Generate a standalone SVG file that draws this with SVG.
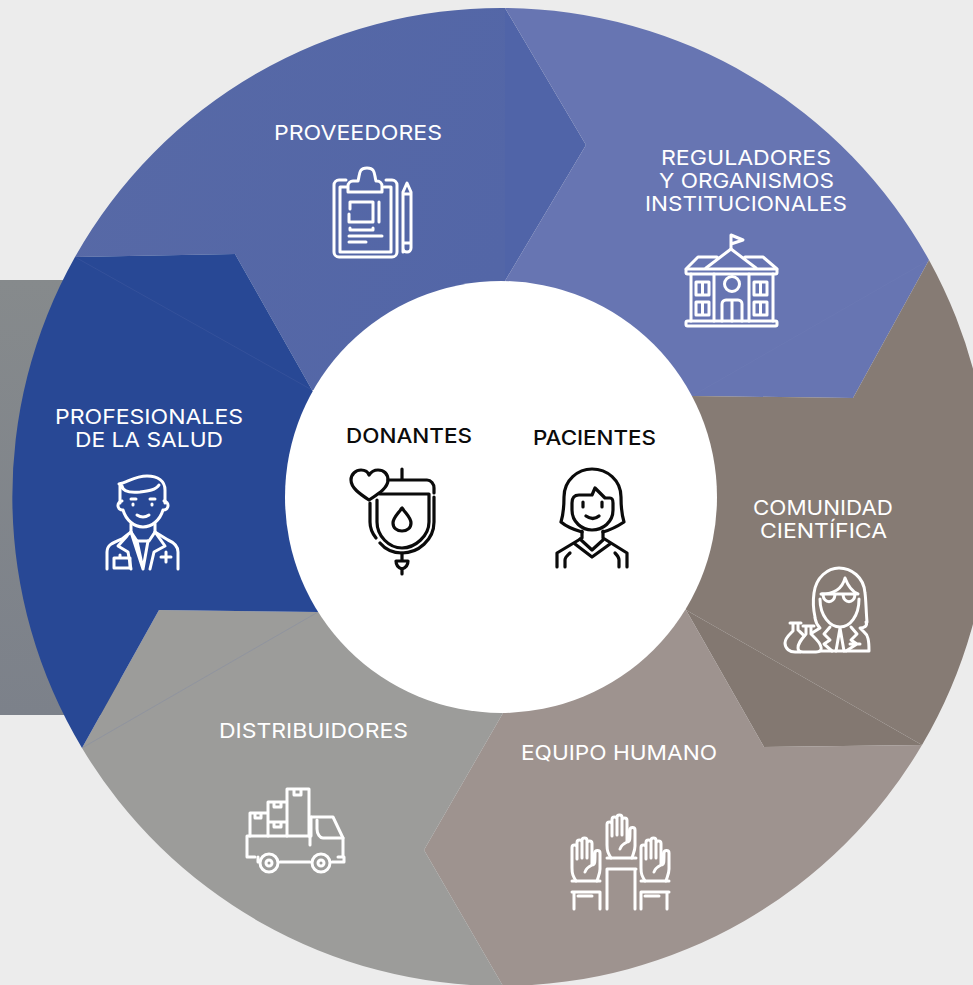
<svg xmlns="http://www.w3.org/2000/svg" xmlns:xlink="http://www.w3.org/1999/xlink" width="973" height="985" viewBox="0 0 973 985">
<style>
.t{font-family:Inter,"Liberation Sans",sans-serif;font-size:20px;font-weight:400;fill:#fff}
.k{font-family:Inter,"Liberation Sans",sans-serif;font-size:20px;font-weight:500;fill:#0b0b0b}
.i{fill:none;stroke:#fff;stroke-width:3;stroke-linecap:round;stroke-linejoin:round}
.b{fill:none;stroke:#0b0b0b;stroke-width:3.2;stroke-linecap:round;stroke-linejoin:round}
.seam{stroke-width:.6;fill:none;opacity:.4}
</style>
<defs>
<linearGradient id="gr" x1="0" y1="0" x2="0" y2="1"><stop offset="0" stop-color="#868a8c"/><stop offset="1" stop-color="#7c818a"/></linearGradient>
<linearGradient id="pv" gradientUnits="userSpaceOnUse" x1="75" y1="100" x2="505" y2="250"><stop offset="0" stop-color="#5769a6"/><stop offset="1" stop-color="#5366a7"/></linearGradient>
<g id="hand"><path d="M4,43C1,38 0,36 0,30V9.500a2.500,2.500 0 0 1 5,0V21M5,20V4.500a2.500,2.500 0 0 1 5,0V20M10,20V2.500a2.500,2.500 0 0 1 5,0V20M15,20V5.500a2.500,2.500 0 0 1 5,0V23V27C23,27 23,25 23,15a2.500,2.500 0 0 1 5,0V31C28,36 26,39 25,43M13,34C14,30 18,28 20,27"/></g>
</defs>
<rect width="973" height="985" fill="#ececec"/>
<rect x="0" y="280" width="120" height="435" fill="url(#gr)"/>

<g id="sector-proveedores"><path d="M75,257A489,489 0 0 1 505,8L505,281L501,400L312,390L235,254Z" fill="url(#pv)"/><path d="M505,8L586,145L505,281Z" fill="#5064a8"/></g>
<g id="sector-reguladores"><path d="M505,8A489,489 0 0 1 929,260L853,398L692,396L600,400L505,281L586,145Z" fill="#6775b2"/></g>
<g id="sector-comunidad"><path d="M929,260A489,489 0 0 1 922,745L686,610L600,500L692,396L853,398Z" fill="#867b74"/><path d="M922,745L764,747L686,610Z" fill="#837871"/></g>
<g id="sector-equipo"><path d="M922,745A489,489 0 0 1 503,986L424,850L503,713L600,600L686,610L764,747Z" fill="#9e938f"/></g>
<g id="sector-distribuidores"><path d="M503,986A489,489 0 0 1 82,748L159,610L318,612L400,600L503,713L424,850Z" fill="#9c9c9a"/></g>
<g id="sector-profesionales"><path d="M82,748A489,489 0 0 1 75,257L235,254L312,390L400,500L318,612L159,610Z" fill="#284895"/></g>

<g id="connectors">
<path class="seam" stroke="#5c70ad" d="M75,257L312,390"/>
<path class="seam" stroke="#6c7db0" d="M82,748L318,612"/>
<path class="seam" stroke="#7583bb" d="M929,260L692,396"/>
</g>

<g id="centro"><circle cx="501" cy="497" r="216" fill="#fff"/></g>

<g id="proveedores">
<text class="t" x="274" y="139.500" textLength="168" lengthAdjust="spacingAndGlyphs">PROVEEDORES</text>
<g class="i">
<path d="M346,180H339a5,5 0 0 0-5,5V252a5,5 0 0 0 5,5H392a5,5 0 0 0 5-5V185a5,5 0 0 0-5-5H386"/>
<path d="M347,187H340V252H391V187H384"/>
<path d="M348,192V186a5,5 0 0 1 5-5H358C360,175 358,168 367,168C376,168 374,175 376,181H377a5,5 0 0 1 5,5V192Z"/>
<path d="M350,209V202H373V222H349V214M379,202V222"/>
<path d="M350,228V230H373V228M349,236H382M349,242H366"/>
<path d="M403,252V192L407,183L411,192V248a4,4 0 0 1-8,0ZM403,243H411M403,194H411"/>
</g></g>

<g id="reguladores">
<text class="t" x="661" y="164.500" textLength="170" lengthAdjust="spacingAndGlyphs">REGULADORES</text>
<text class="t" x="659" y="187.500" textLength="175" lengthAdjust="spacingAndGlyphs">Y ORGANISMOS</text>
<text class="t" x="645" y="210.500" textLength="202" lengthAdjust="spacingAndGlyphs">INSTITUCIONALES</text>
<g class="i">
<path d="M731,249V235L743,240L731,244"/>
<path d="M706,268L731,249L756,268M686,269L698,257H717M745,257H763L777,269"/>
<rect x="686" y="269" width="91" height="5" rx="1.500"/>
<path d="M714,274V321M749,274V321M691,274V321M773,274V321"/>
<rect x="686" y="321" width="91" height="5" rx="1.500"/>
<circle cx="732" cy="284" r="7.500"/>
<path d="M722,321V304a4,4 0 0 1 4-4H738a4,4 0 0 1 4,4V321M732,300V321"/>
<path d="M696,282H709V295H696ZM702.500,282V295M696,302H709V315H696ZM702.500,302V315M754,282H767V295H754ZM760.500,282V295M754,302H767V315H754ZM760.500,302V315"/>
</g></g>

<g id="comunidad">
<text class="t" x="753" y="514.500" textLength="140" lengthAdjust="spacingAndGlyphs">COMUNIDAD</text>
<text class="t" x="760" y="537.500" textLength="127" lengthAdjust="spacingAndGlyphs">CIENTÍFICA</text>
<g class="i">
<path d="M815,617C813,608 813,600 814,593C816,577 828,568 839,568C851,568 864,577 865,593C866,600 866,610 867,622"/>
<path d="M821,594C832,594 842,590 845,578C848,586 853,592 858,594"/>
<path d="M820,599C820,616 830,627 840,627C850,627 859,616 859,599"/>
<path d="M822,594H856M823,595C824,604 834,604 835,595M843,595C844,604 854,604 855,595"/>
<path d="M815,618C816,624 818,626 820,628L812,633M866,622C868,626 864,628 860,628L864,632C868,635 869,640 869,651H820"/>
<path d="M830,627L824,634L830,640L824,644L832,651M851,627L857,634L851,640L857,644L846,651M840,628L836,651M840,628L844,651M850,644H860"/>
<path d="M790,623H801M793,623V631C790,634 785,638 785,643C785,649 790,652 795,652H800M798,623V630C800,632 803,634 804,636"/>
<path d="M806,626V634C801,640 798,643 798,648C798,651 800,652 803,652H816C820,652 822,650 821,647C820,642 815,638 811,634V626M803,626H814"/>
</g></g>

<g id="equipo">
<text class="t" x="521" y="759.500" textLength="196" lengthAdjust="spacingAndGlyphs">EQUIPO HUMANO</text>
<g class="i">
<use xlink:href="#hand" href="#hand" x="607" y="815"/>
<use xlink:href="#hand" href="#hand" x="572" y="838"/>
<use xlink:href="#hand" href="#hand" x="641" y="838"/>
<path d="M607,858H636M607,869H636M607,869V909M635,869V909"/>
<path d="M572,881H600M572,892H600M574,892V909M600,892V909M578,896H592"/>
<path d="M641,881H669M641,892H669M641,892V909M667,892V909M645,896H659"/>
</g></g>

<g id="distribuidores">
<text class="t" x="219" y="737.500" textLength="189" lengthAdjust="spacingAndGlyphs">DISTRIBUIDORES</text>
<g class="i">
<path d="M250,836V813H268V836M255,813V818H261V813M268,836V802H287V836M268,822H287M274,802V807H281V802M274,822V827H281V822M287,836V789H309V836M294,789V795H301V789"/>
<path d="M255,857H247V836H310V845"/>
<path d="M311,817H333L343,838V857H338"/>
<path d="M317,820V829C317,834 320,838 323,838H343M311,817V836"/>
<path d="M280,862H310M332,862H344V857M258,857V862"/>
<circle cx="269" cy="863" r="9"/><circle cx="269" cy="863" r="3"/>
<circle cx="321" cy="863" r="9"/><circle cx="321" cy="863" r="3"/>
</g></g>

<g id="profesionales">
<text class="t" x="55" y="423.500" textLength="188" lengthAdjust="spacingAndGlyphs">PROFESIONALES</text>
<text class="t" x="75" y="446.500" textLength="148" lengthAdjust="spacingAndGlyphs">DE LA SALUD</text>
<g class="i">
<path d="M119,484C128,482 135,476 147,476C158,476 165,481 165,490V503M122,486C123,492 130,493 140,492C148,491 156,490 159,485M120,486V503"/>
<path d="M122,501a3.500,3.500 0 1 0 1,9M164,501a3.500,3.500 0 1 1-1,9M123,510C126,520 134,527 143,527C152,527 160,520 163,510"/>
<path d="M131,499H136M150,499H155M133,504V505M152,504V505M137,515Q143,519 149,515"/>
<path d="M131,524V532L137,541H149L155,532V524"/>
<path d="M107,569V552C107,545 112,543 122,539L131,532M155,532L168,540C175,543 178,547 178,552V569"/>
<path d="M127,536L118,546L128,552L131,569M131,532L143,569L148,541M155,532L165,546L154,552L150,569M137,541L143,569"/>
<path d="M114,568V558H130V568ZM120,558V555"/>
<path d="M161,557H171M166,552V562"/>
</g></g>

<g id="donantes">
<text class="k" x="346" y="442.500" textLength="126" lengthAdjust="spacingAndGlyphs">DONANTES</text>
<g class="b">
<path d="M369,500C360,494 351,488 351,480C351,474 356,470 361,470C365,470 368,472 369,475C371,472 374,470 378,470C384,470 388,474 388,480C388,488 378,494 369,500Z"/>
<path d="M402,469V480M388,480H427C431,480 434,484 434,488V493M434,497V522C434,540 418,553 402,553C393,553 385,549 380,543M376,538C372,533 370,528 370,522V503"/>
<path d="M377,500V522C377,536 389,548 402,548C415,548 429,536 429,522V494H380"/>
<path d="M402,508C397,515 393,518 393,523C393,528 397,531 402,531C407,531 411,528 411,523C411,518 407,515 402,508Z"/>
<path d="M402,553V561M396,561H408C408,566 405,568 402,569C399,568 396,566 396,561ZM402,569V574"/>
</g></g>

<g id="pacientes">
<text class="k" x="533" y="444.500" textLength="123" lengthAdjust="spacingAndGlyphs">PACIENTES</text>
<g class="b">
<path d="M561,522C564,512 564,505 564,497C564,480 578,469 592,469C607,469 621,480 621,497C621,505 621,512 624,522C615,528 610,530 603,532M561,522C568,528 575,530 582,532"/>
<path d="M572,510V503C572,498 574,495 579,495H592L595,488L605,498H610C612,498 613,500 613,503V510C613,522 603,530 592,530C582,530 572,522 572,510Z"/>
<path d="M583,502V507M602,502V507M586,516Q593,521 599,516"/>
<path d="M582,531V538L557,553V567M603,531V538L627,553V567M565,567V560C565,557 568,555 570,553M619,567V560C619,557 617,555 615,553"/>
<path d="M575,544L592,557L610,544M580,539L592,550L603,540"/>
</g></g>
</svg>
